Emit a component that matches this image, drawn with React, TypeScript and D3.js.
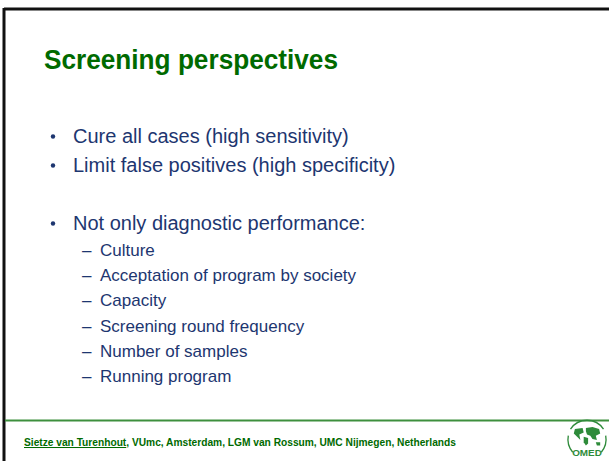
import * as d3 from "d3";

const W = 609;
const H = 461;

const title = "Screening perspectives";
// main bullets; null is an empty row
const mainBullets: (string | null)[] = [
  "Cure all cases (high sensitivity)",
  "Limit false positives (high specificity)",
  null,
  "Not only diagnostic performance:",
];
const subBullets = [
  "Culture",
  "Acceptation of program by society",
  "Capacity",
  "Screening round frequency",
  "Number of samples",
  "Running program",
];
const footerAuthor = "Sietze van Turenhout";
const footerRest = ", VUmc, Amsterdam, LGM van Rossum, UMC Nijmegen, Netherlands";

const GREEN = "#006a00";
const BLUE = "#1d3670";
const LOGO = "#2e8b3a";

export default function App() {
  // row positions
  const yMain = d3.scaleLinear().domain([0, 1]).range([143, 172]);
  const ySub = d3.scaleLinear().domain([0, subBullets.length - 1]).range([256, 382]);

  return (
    <svg
      width={W}
      height={H}
      style={{ position: "absolute", left: 0, top: 0, background: "#fff" }}
      fontFamily="'Liberation Sans', Arial, sans-serif"
    >
      {/* frame */}
      <line x1={4} y1={9} x2={W} y2={9} stroke="#111" strokeWidth={3} />
      <line x1={4} y1={8} x2={4} y2={H} stroke="#111" strokeWidth={3} />

      <text x={44} y={69} fill={GREEN} fontWeight="bold" fontSize={28} textLength={294} lengthAdjust="spacingAndGlyphs">
        {title}
      </text>

      {mainBullets.map((t, i) =>
        t === null ? null : (
          <g key={"m" + i} fill={BLUE}>
            <circle cx={53} cy={yMain(i) - 6.5} r={2.2} />
            <text x={73} y={yMain(i)} fontSize={20}>
              {t}
            </text>
          </g>
        )
      )}

      {subBullets.map((t, i) => (
        <g key={"s" + i} fill={BLUE}>
          <text x={82} y={ySub(i)} fontSize={17}>
            –
          </text>
          <text x={100} y={ySub(i)} fontSize={17}>
            {t}
          </text>
        </g>
      ))}

      {/* footer */}
      <line x1={5} y1={420.5} x2={W} y2={420.5} stroke="#3d8f3d" strokeWidth={2} />
      <text x={24} y={446} fill={GREEN} fontWeight="bold" fontSize={10.2}>
        <tspan textDecoration="underline">{footerAuthor}</tspan>
        <tspan>{footerRest}</tspan>
      </text>

      {/* OMED logo */}
      <g transform="translate(587,439) scale(1.1)" fill={LOGO} stroke="none">
        <path d="M-15,-9 A18,18 0 0,1 15,-9" fill="none" stroke={LOGO} strokeWidth={1.2} />
        <path d="M-17,-3 A18,18 0 0,0 -13,12" fill="none" stroke={LOGO} strokeWidth={1.2} />
        <path d="M17,-3 A18,18 0 0,1 13,12" fill="none" stroke={LOGO} strokeWidth={1.2} />
        <path d="M-11,-9 L-4,-10 L-3,-6 L-7,-4 L-6,1 L-9,-2 L-12,-5 Z" />
        <path d="M-1,-10 L5,-11 L11,-9 L12,-5 L8,-3 L9,1 L5,0 L3,-3 L0,-4 L-1,-7 Z" />
        <path d="M-3,-2 L1,-1 L1,4 L-1,6 L-3,3 Z" />
        <path d="M8,3 L12,3 L12,6 L9,6 Z" />
        <text x={0} y={15} textAnchor="middle" fontSize={9} fontWeight="bold" fill={LOGO}>
          OMED
        </text>
      </g>
    </svg>
  );
}
